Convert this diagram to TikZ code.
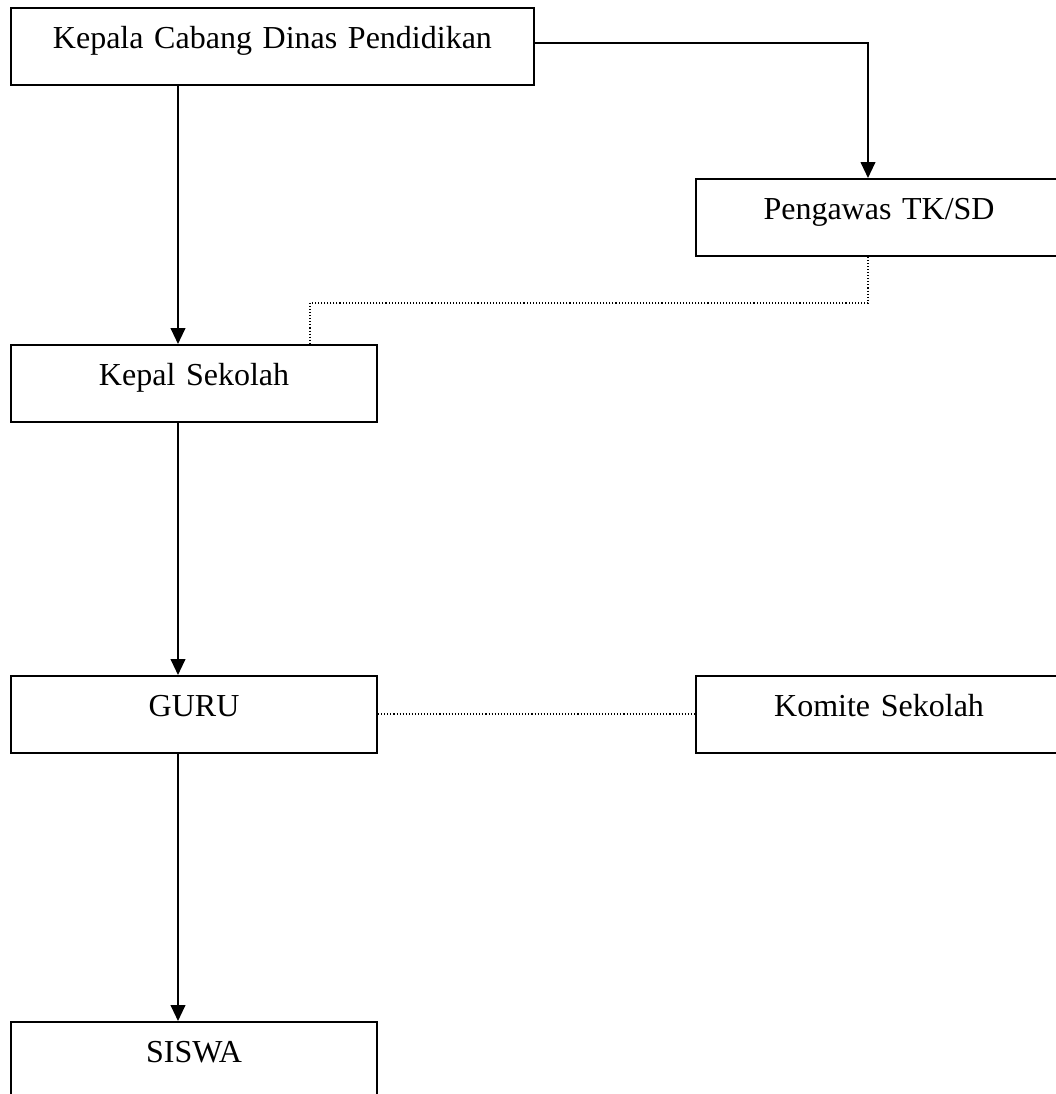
\documentclass[tikz,border=0pt]{standalone}
\usepackage{fontspec}
\setmainfont{Liberation Serif}
\usetikzlibrary{arrows.meta}
\tikzset{
 box/.style={draw,rectangle,anchor=north west,line width=0.75pt,inner xsep=0pt,inner ysep=0pt,
  text height=15pt,text depth=13.8pt,align=center,font=\fontsize{12}{14}\selectfont},
 arr/.style={line width=0.75pt,-{Triangle[length=6pt,width=5.5pt]}},
 dotline/.style={line width=0.7pt,dash pattern=on 0.4pt off 0.75pt}
}
\begin{document}
\begin{tikzpicture}[x=0.375pt,y=-0.375pt]
\clip (0,0) rectangle (1056,1094);
\coordinate (KC) at (10,7);
\coordinate (PG) at (695,178);
\coordinate (KS) at (10,344);
\coordinate (GR) at (10,675);
\coordinate (KM) at (695,675);
\coordinate (SW) at (10,1021);
\coordinate (X) at (178,0);
\coordinate (P) at (868,0);
\coordinate (R) at (310,0);
\node[box,text width=196.1pt] (kcdp) at (KC){Kepala Cabang Dinas Pendidikan};
\node[box,text width=137.3pt] (pengawas) at (PG){Pengawas TK/SD};
\node[box,text width=137.3pt] (kepsek) at (KS){Kepal Sekolah};
\node[box,text width=137.3pt] (guru) at (GR){GURU};
\node[box,text width=137.3pt] (komite) at (KM){Komite Sekolah};
\node[box,text width=137.3pt] (siswa) at (SW){SISWA};
\draw[arr] ([yshift=1.1pt]kcdp.east) -| (pengawas.north -| P);
\draw[arr] (kcdp.south -| X) -- (kepsek.north -| X);
\draw[dotline] (pengawas.south -| P) -- ++(0,46) -| (kepsek.north -| R);
\draw[arr] (kepsek.south -| X) -- (guru.north -| X);
\draw[dotline] (guru.east) -- (komite.west);
\draw[arr] (guru.south -| X) -- (siswa.north -| X);
\end{tikzpicture}
\end{document}
